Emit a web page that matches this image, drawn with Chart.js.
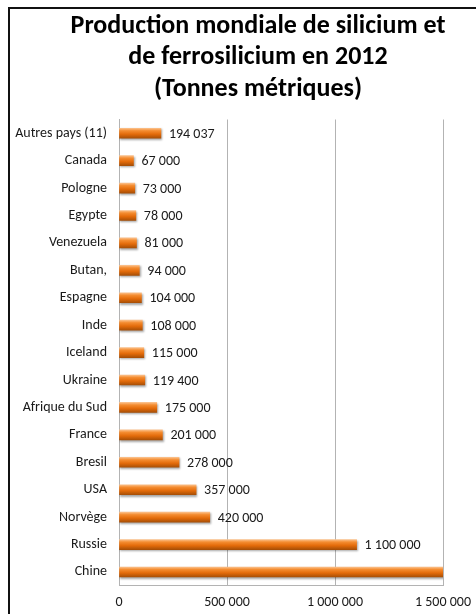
<!DOCTYPE html>
<html><head><meta charset="utf-8">
<script src="https://cdn.jsdelivr.net/npm/chart.js@4.4.1/dist/chart.umd.min.js"></script>
<style>html,body{margin:0;padding:0;background:#fff;}#wrap{width:476px;height:614px;}</style>
</head><body><div id="wrap"><canvas id="c" width="476" height="614"></canvas></div>
<script>
const categories = ["Autres pays (11)", "Canada", "Pologne", "Egypte", "Venezuela", "Butan,", "Espagne", "Inde", "Iceland", "Ukraine", "Afrique du Sud", "France", "Bresil", "USA", "Norvège", "Russie", "Chine"];
const production = [194037, 67000, 73000, 78000, 81000, 94000, 104000, 108000, 115000, 119400, 175000, 201000, 278000, 357000, 420000, 1100000, 5400000];
const xTicks = [0, 500000, 1000000, 1500000];
const titleLines = ["Production mondiale de silicium et", "de ferrosilicium en 2012", "(Tonnes métriques)"];

const FONT = "Carlito, Lato, 'Liberation Sans', sans-serif";
const fmt = v => String(Math.round(v)).replace(/\B(?=(\d{3})+(?!\d))/g, ' ');
const X_MAX = xTicks[xTicks.length - 1];

const framePlugin = {
  id: 'frame',
  afterDraw(chart) {
    const c = chart.ctx;
    c.save();
    c.fillStyle = '#111';
    c.fillRect(8, 7, 476 - 8, 2);
    c.fillRect(8, 7, 2, 614 - 7);
    // title
    c.fillStyle = '#000';
    c.font = "bold 26px " + FONT;
    c.textAlign = 'center';
    c.textBaseline = 'middle';
    titleLines.forEach((t, i) => c.fillText(t, 258, 26 + i * 31.5));
    c.restore();
  }
};

const shadowLabels = {
  id: 'shadowLabels',
  beforeDatasetsDraw(chart) {
    const c = chart.ctx;
    c.save();
    c.shadowColor = 'rgba(0,0,0,0.35)';
    c.shadowOffsetX = 1;
    c.shadowOffsetY = 1.5;
    c.shadowBlur = 2;
  },
  afterDatasetsDraw(chart) {
    const c = chart.ctx;
    c.restore();
    const meta = chart.getDatasetMeta(0);
    c.save();
    c.font = "14px " + FONT;
    c.fillStyle = '#1a1a1a';
    c.textAlign = 'left';
    c.textBaseline = 'middle';
    meta.data.forEach((bar, i) => {
      const v = production[i];
      if (v > X_MAX) return;
      c.fillText(fmt(v), bar.x + 8, bar.y + 1);
    });
    c.restore();
  }
};

new Chart(document.getElementById('c'), {
  type: 'bar',
  data: {
    labels: categories,
    datasets: [{
      data: production,
      barThickness: 10,
      clip: 0,
      borderWidth: 0,
      backgroundColor: (ctx) => {
        const chart = ctx.chart;
        if (!chart.chartArea || ctx.type !== 'data' || !chart.scales.y) return '#E46C0A';
        const y = chart.scales.y.getPixelForValue(ctx.dataIndex);
        const g = chart.ctx.createLinearGradient(0, y - 5, 0, y + 5);
        g.addColorStop(0, '#FBC08A');
        g.addColorStop(0.25, '#F48C30');
        g.addColorStop(0.6, '#E36B0A');
        g.addColorStop(1, '#A84F06');
        return g;
      }
    }]
  },
  options: {
    indexAxis: 'y',
    responsive: false,
    animation: false,
    devicePixelRatio: 1,
    layout: { padding: { left: 10, right: 33, top: 119.5, bottom: 3.3 } },
    plugins: {
      legend: { display: false },
      tooltip: { enabled: false },
      title: { display: false }
    },
    scales: {
      x: {
        min: 0, max: X_MAX,
        afterBuildTicks: s => { s.ticks = xTicks.map(v => ({ value: v })); },
        afterFit: s => { s.height = 25; s.paddingRight = 0; s.paddingLeft = 0; },
        grid: { color: '#B3B3B3', drawTicks: false, lineWidth: 1 },
        border: { display: true, color: '#B3B3B3' },
        ticks: { padding: 8, color: '#1a1a1a', font: { family: FONT, size: 14 }, callback: v => fmt(v), maxRotation: 0 }
      },
      y: {
        grid: { display: false, drawTicks: false },
        border: { display: true, color: '#B3B3B3' },
        afterFit: s => { s.width = 109; },
        ticks: { padding: 12, color: '#1a1a1a', font: { family: FONT, size: 14 }, autoSkip: false }
      }
    }
  },
  plugins: [framePlugin, shadowLabels]
});
</script></body></html>
